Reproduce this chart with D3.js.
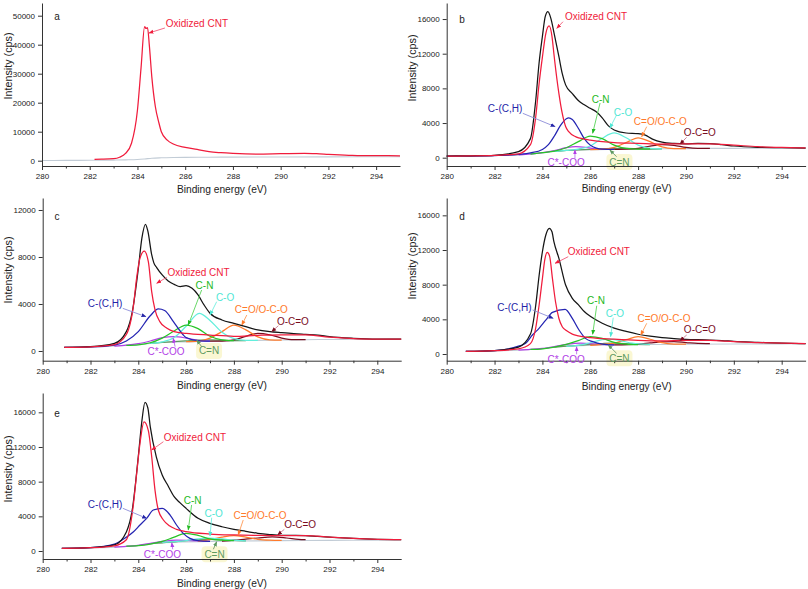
<!DOCTYPE html>
<html><head><meta charset="utf-8">
<script src="https://cdn.jsdelivr.net/npm/d3@7"></script>
<style>body{margin:0;background:#fff}svg{display:block;font-family:"Liberation Sans",Arial,sans-serif}</style>
</head><body><svg id="chart" width="808" height="589"></svg>
<script>
// ---------- tick labels / names ----------
const xMajor = [280,282,284,286,288,290,292,294];
const xMinor = [281,283,285,287,289,291,293];
const yTicksA = [0,10000,20000,30000,40000,50000];
const yTicks16 = [0,4000,8000,12000,16000];
const yTicks12 = [0,4000,8000,12000];
const labelNames = ["Oxidized CNT","C-(C,H)","C-N","C-O","C=O/O-C-O","O-C=O","C*-COO","C=N"];
const panelLetters = ["a","b","c","d","e"];

// ---------- panel a ----------
const aEnv = [[282.2,450],[282.5,500],[283,700],[283.25,1200],[283.5,2500],[283.75,6000],[284,17500],[284.15,32000],[284.3,46200],[284.36,45600],[284.42,45900],[284.5,39500],[284.6,29000],[284.75,18600],[284.9,13000],[285,10000],[285.25,7100],[285.5,5750],[286,4600],[286.5,3900],[287,3100],[287.5,2750],[288,2530],[289,2300],[290,2400],[291,2500],[291.5,2400],[292,2200],[293,1840],[294,1720],[295,1700]];
const aBg = [[280,80],[281,100],[282,130],[283,200],[283.5,280],[284,400],[284.3,600],[284.6,850],[285,1000],[285.5,1100],[286,1150],[287,1200],[288,1230],[290,1280],[292,1320],[294,1350],[295,1360]];

// ---------- panel b ----------
const bBg = [[280,180],[281,200],[282,250],[283,330],[283.5,420],[284,560],[284.5,720],[285,830],[285.5,890],[286,930],[287,970],[288,1000],[289,1030],[290,1050],[291,1070],[292,1080],[293,1090],[294,1100],[295,1110]];
const bEnv = [[280,190],[281,220],[282,280],[283,700],[283.5,2200],[283.72,6600],[283.86,10900],[284,14000],[284.12,16300],[284.23,16850],[284.35,16100],[284.5,14200],[284.69,11650],[284.83,9700],[284.97,8400],[285.25,7400],[285.5,6600],[285.75,6100],[286,5700],[286.25,5300],[286.5,4600],[286.75,3700],[287,3200],[287.5,2850],[288,2780],[288.3,2600],[288.6,2150],[289,1800],[289.5,1650],[290,1600],[290.5,1650],[291,1620],[291.5,1500],[292,1350],[293,1200],[294,1150],[295,1110]];
const bOx = [[280,180],[281,200],[282,260],[283,450],[283.5,1500],[283.72,4700],[283.86,8500],[284,11600],[284.14,14300],[284.28,15200],[284.4,14000],[284.48,12000],[284.6,9200],[284.69,7400],[284.83,5100],[284.97,3600],[285.1,3000],[285.4,2400],[285.75,2150],[286,2040],[286.5,1850],[287,1730],[288,1650],[289,1580],[290,1600],[291,1600],[292,1450],[293,1280],[294,1180],[295,1120]];
const bCCH = [[280,170],[281,190],[282,240],[283,380],[283.5,550],[284,950],[284.25,1500],[284.5,2500],[284.75,3700],[285,4500],[285.1,4600],[285.25,4400],[285.5,3400],[285.75,2200],[286,1450],[286.25,1100],[286.5,980],[287,960]];
const bCN = [[283.5,420],[284,580],[284.5,760],[285,1150],[285.5,1850],[286,2500],[286.5,2200],[287,1450],[287.5,1080],[288,1000],[288.5,1010]];
const bCO = [[284.5,720],[285,850],[285.5,1000],[286,1350],[286.5,2250],[287,2850],[287.5,2300],[288,1450],[288.5,1080],[289,1030]];
const bCdO = [[286,930],[286.5,980],[287,1200],[287.5,1750],[288,2300],[288.5,1850],[289,1250],[289.5,1060],[290,1050]];
const bOCdO = [[287,970],[287.5,990],[288,1080],[288.5,1330],[289,1520],[289.5,1420],[290,1180],[290.5,1070],[291,1070]];
const bCsCOO = [[283,330],[283.5,430],[284,590],[284.5,820],[285,1150],[285.4,1270],[285.8,1200],[286.3,1000],[287,970]];
const bCdN = [[284.5,720],[285,840],[285.5,900],[286,960],[286.5,1020],[287,1080],[287.5,1080],[288,1030],[288.5,1000],[289,1030]];

// ---------- panel c ----------
const cBg = [[280.9,300],[282,330],[283,420],[283.5,480],[284,550],[284.5,650],[285,720],[286,780],[287,830],[288,870],[289,900],[290,930],[291,960],[292,980],[293,995],[294,1005],[295,1010]];
const cEnv = [[280.9,310],[282,370],[283,650],[283.5,1650],[283.75,3350],[284,7000],[284.15,9600],[284.3,10780],[284.4,10200],[284.56,8200],[284.65,7500],[284.77,7100],[285,6470],[285.25,5960],[285.5,5670],[285.75,5480],[286,5560],[286.25,5330],[286.5,4770],[286.75,3920],[287,3210],[287.5,2640],[288,2350],[288.5,2070],[289,1790],[289.5,1650],[290,1560],[290.5,1480],[291,1420],[291.5,1360],[292,1220],[293,1080],[294,1020],[295,1020]];
const cOx = [[280.9,310],[282,360],[283,550],[283.5,1400],[283.8,3900],[283.93,6200],[284.07,7900],[284.25,8500],[284.42,7600],[284.56,5050],[284.7,3500],[284.9,2500],[285.2,1930],[285.5,1650],[286,1500],[287,1360],[288,1250],[289,1330],[290,1380],[291,1370],[292,1180],[293,1060],[294,1020],[295,1010]];
const cCCH = [[280.9,300],[282,340],[283,500],[283.5,850],[284,1650],[284.5,3000],[284.84,3575],[285.1,3450],[285.47,2500],[285.75,1700],[286,1150],[286.5,880],[287,840]];
const cCN = [[283.5,480],[284,530],[284.5,700],[285,1100],[285.5,1700],[286,2200],[286.5,1900],[287,1250],[287.5,950],[288,880]];
const cCO = [[284.5,650],[285,780],[285.5,1150],[286,2100],[286.55,3200],[287,2600],[287.5,1600],[288,1050],[288.5,900],[289,900]];
const cCdO = [[286,800],[286.5,850],[287,1100],[287.5,1650],[288,2200],[288.5,1800],[289,1200],[289.5,950],[290,930]];
const cOCdO = [[287,830],[287.5,850],[288,950],[288.5,1250],[289,1500],[289.5,1380],[290,1100],[290.5,960],[291,960]];
const cCsCOO = [[283,420],[283.5,490],[284,620],[284.5,850],[285,1130],[285.5,1220],[286,1100],[286.5,900],[287,840]];
const cCdN = [[284.5,650],[285,730],[285.5,800],[286,860],[286.5,920],[287,950],[287.5,920],[288,880],[288.5,880]];

// ---------- panel d ----------
const dBg = [[280.8,300],[282,350],[283,450],[283.5,520],[284,620],[284.5,800],[285,900],[286,1000],[287,1050],[288,1080],[289,1100],[290,1120],[292,1150],[294,1170],[295,1180]];
const dEnv = [[280.8,310],[282,400],[283,800],[283.5,2300],[283.72,5600],[283.86,9000],[284,11800],[284.14,13700],[284.29,14500],[284.4,14100],[284.48,12960],[284.69,11040],[284.97,7960],[285.25,6420],[285.5,5700],[285.75,4900],[286,4350],[286.5,3550],[287,2980],[287.5,2600],[288,2280],[288.5,2050],[289,1880],[289.5,1780],[290,1700],[290.5,1650],[291,1610],[291.5,1550],[292,1460],[293,1350],[294,1250],[295,1190]];
const dOx = [[280.8,300],[282,380],[283,600],[283.5,1200],[283.72,3000],[283.86,5600],[284,8700],[284.1,10900],[284.2,11730],[284.3,11300],[284.42,8700],[284.55,6000],[284.69,4100],[284.83,3150],[285,2700],[285.25,2300],[285.5,2100],[286,1900],[287,1720],[288,1580],[289,1520],[290,1560],[291,1560],[292,1420],[293,1320],[294,1250],[295,1190]];
const dCCH = [[280.8,300],[282,400],[283,900],[283.3,1230],[283.58,2190],[283.86,2960],[284.14,3900],[284.42,4800],[284.95,5150],[285.25,4100],[285.53,2770],[285.8,1800],[286.1,1420],[286.5,1150],[287,1060]];
const dCN = [[283.5,520],[284,600],[284.5,800],[285,1100],[285.5,1550],[286,2000],[286.5,1800],[287,1350],[287.5,1150],[288,1090]];
const dCO = [[285,900],[285.5,1000],[286,1300],[286.5,1650],[286.8,1730],[287.25,1550],[287.75,1250],[288.5,1100]];
const dCdO = [[286,1000],[286.5,1100],[287,1250],[287.5,1650],[288,2000],[288.5,1700],[289,1300],[289.5,1150],[290,1130]];
const dOCdO = [[287,1050],[288,1150],[288.5,1280],[289,1400],[289.5,1420],[290,1320],[290.5,1220],[291,1200]];
const dCsCOO = [[283,450],[283.5,520],[284,640],[284.5,850],[285,1100],[285.6,1250],[286.2,1150],[287,1060]];
const dCdN = [[284.5,800],[285,900],[285.5,1000],[286,1100],[286.5,1200],[286.9,1250],[287.5,1200],[288,1110],[288.5,1090]];

// ---------- panel e ----------
const eBg = [[280.8,300],[282,370],[283,450],[283.5,540],[284,650],[284.5,850],[285,950],[286,1050],[287,1100],[288,1150],[290,1200],[292,1230],[294,1260],[295,1270]];
const eEnv = [[280.8,300],[282,380],[283,700],[283.5,2200],[283.75,4800],[284,10900],[284.15,15000],[284.28,17150],[284.4,16500],[284.5,14350],[284.75,10900],[285,8770],[285.25,7500],[285.5,6270],[285.75,5550],[286,4920],[286.5,3770],[287,3190],[287.5,2800],[288,2500],[288.5,2270],[289,2040],[289.5,1900],[290,1810],[290.5,1800],[291,1770],[291.5,1680],[292,1600],[293,1450],[294,1350],[295,1300]];
const eOx = [[280.8,300],[282,380],[283,600],[283.5,1300],[283.8,5500],[283.93,8900],[284.07,12400],[284.24,14900],[284.42,13900],[284.56,10900],[284.7,7000],[284.84,4700],[285.05,3580],[285.3,2900],[285.6,2500],[286,2230],[287,1960],[288,1850],[289,1800],[290,1770],[291,1780],[292,1600],[293,1450],[294,1350],[295,1300]];
const eCCH = [[280.8,300],[282,390],[283,800],[283.5,1600],[283.8,2230],[284.07,3000],[284.35,3770],[284.63,4730],[285,4920],[285.33,4150],[285.6,3000],[285.88,2040],[286.16,1460],[286.5,1200],[287,1120]];
const eCN = [[283.5,550],[284,620],[284.5,800],[285,1100],[285.5,1600],[286,2040],[286.5,1800],[287,1400],[287.5,1250],[288,1200]];
const eCO = [[285,1000],[285.5,1080],[286,1200],[286.5,1400],[286.9,1500],[287.5,1400],[288,1250],[288.5,1170]];
const eCdO = [[286.5,1150],[287,1300],[287.5,1600],[288,1770],[288.5,1600],[289,1350],[289.5,1250],[290,1220]];
const eOCdO = [[287.5,1150],[288,1250],[288.5,1380],[289,1500],[289.6,1620],[290.2,1500],[290.7,1350],[291,1300]];
const eCsCOO = [[283,450],[283.5,540],[284,660],[284.5,870],[285,1100],[285.6,1250],[286.2,1200],[287,1120]];
const eCdN = [[284.5,850],[285,950],[285.5,1050],[286,1200],[286.5,1300],[286.9,1350],[287.5,1300],[288,1220],[288.5,1180]];

// ---------- styles ----------
const lineColor = {bg:"#c2ccd6", cdn:"#5f9a5f", cscoo:"#b23ee6", ocdo:"#7a0c1e", cdo:"#ff7a2a", co:"#62eedc", cn:"#27c427", cch:"#2424b2", env:"#151515", ox:"#f01c3c"};
const textColor = ["#f01c3c","#2424a8","#22b822","#4fe6d4","#ff7a2a","#7a0c1e","#b23ee6","#5f9a5f"];
const arrowColor = ["#f25a78","#8c8cd8","#58d458","#70eedf","#ff9a55","#c77a92","#c070ee","#6a9a6a"];

// ---------- layout ----------
const panels = [
 {x0:42, x1:400, top:3, bot:166, dom:[-1830,54380], yt:yTicksA, letter:[57,16], ylab:[7.5,66], xlab:[222,189],
  lines:[["bg",aBg],["ox",aEnv]], notes:[[0,286.49,47140,285.15,45760,284.48,44030]]},
 {x0:446.7, x1:805.6, top:3, bot:166, dom:[-958,17850], yt:yTicks16, letter:[462,19], ylab:[412,68], xlab:[626.7,188.5],
  lines:[["bg",bBg],["cdn",bCdN],["cscoo",bCsCOO],["ocdo",bOCdO],["cdo",bCdO],["co",bCO],["cn",bCN],["cch",bCCH],["env",bEnv],["ox",bOx]],
  notes:[[0,286.24,16270,284.86,15690,284.60,14930],[1,282.44,5620,283.18,5120,284.53,3580],[2,286.43,6770,286.41,6310,286.10,2820],[3,287.37,5270,287.10,4930,286.82,3430],[4,288.93,4120,288.36,3580,288.15,2420],[5,290.58,2850,290.03,2350,289.75,1580],[6,284.99,-500,285.36,-70,285.36,890],[7,287.22,-500,287.10,115,286.82,890]]},
 {x0:42.7, x1:401.2, top:198, bot:360.7, dom:[-826,13020], yt:yTicks12, letter:[57,216], ylab:[7.5,270], xlab:[222,385],
  lines:[["bg",cBg],["cdn",cCdN],["cscoo",cCsCOO],["ocdo",cOCdO],["cdo",cCdO],["co",cCO],["cn",cCN],["cch",cCCH],["env",cEnv],["ox",cOx]],
  notes:[[0,286.52,6660,285.19,6270,284.77,5760],[1,282.61,4000,283.35,3630,284.32,2920],[2,286.77,5560,286.65,5190,286.09,2210],[3,287.63,4540,287.28,4200,287.00,3060],[4,289.15,3490,288.54,3060,288.33,2210],[5,290.47,2550,289.86,2150,289.58,1640],[6,285.16,-60,285.54,370,285.46,1080],[7,286.96,0,286.65,370,286.44,940]]},
 {x0:446.7, x1:805.6, top:198, bot:360.7, dom:[-773,18000], yt:yTicks16, letter:[462,216], ylab:[412,266], xlab:[626.7,386.5],
  lines:[["bg",dBg],["cdn",dCdN],["cscoo",dCsCOO],["ocdo",dOCdO],["cdo",dCdO],["co",dCO],["cn",dCN],["cch",dCCH],["env",dEnv],["ox",dOx]],
  notes:[[0,286.36,11800,285.08,11230,284.53,10460],[1,282.83,5340,283.59,5080,284.45,4120],[2,286.24,6120,286.27,5570,286.10,2270],[3,287.03,4730,286.96,4190,286.85,2000],[4,289.08,4150,288.36,3540,288.11,2190],[5,290.58,2770,290.03,2190,289.75,1530],[6,284.99,-580,285.43,-35,285.43,840],[7,287.22,-500,287.10,80,286.75,1040]]},
 {x0:42.7, x1:401.2, top:393, bot:559, dom:[-923,18230], yt:yTicks16, letter:[57,413], ylab:[7.5,469], xlab:[222,583],
  lines:[["bg",eBg],["cdn",eCdN],["cscoo",eCsCOO],["ocdo",eOCdO],["cdo",eCdO],["co",eCO],["cn",eCN],["cch",eCCH],["env",eEnv],["ox",eOx]],
  notes:[[0,286.37,13070,285.05,12610,284.56,11650],[1,282.61,5310,283.35,4930,284.35,3770],[2,286.27,5880,286.23,5310,286.09,2420],[3,287.15,4350,287.07,3840,287.00,1730],[4,289.09,4070,288.39,3580,288.18,1850],[5,290.77,3000,290.11,2500,289.83,1850],[6,285.01,-380,285.44,200,285.40,960],[7,287.19,-380,287.14,200,287.28,1070]]}
];

const svg = d3.select("#chart");
const defs = svg.append("defs");
textColor.forEach((c,i)=>{
  defs.append("marker").attr("id","arr"+i).attr("viewBox","0 0 10 10").attr("refX",9).attr("refY",5)
    .attr("markerWidth",5).attr("markerHeight",5).attr("markerUnits","userSpaceOnUse").attr("orient","auto")
    .append("path").attr("d","M0,1 L10,5 L0,9 Z").attr("fill",c);
});

panels.forEach((p,pi)=>{
  const x = d3.scaleLinear().domain([280,295]).range([p.x0,p.x1]);
  const y = d3.scaleLinear().domain(p.dom).range([p.bot,p.top]);
  const g = svg.append("g");

  // C=N highlight
  const cdnNote = p.notes.find(n=>n[0]===7);
  if(cdnNote){
    g.append("rect").attr("x",x(cdnNote[1])-13).attr("y",y(cdnNote[2])-8).attr("width",26).attr("height",16)
      .attr("rx",4).attr("fill","#f8f4c4").attr("opacity",0.75);
  }

  const line = d3.line().x(d=>x(d[0])).y(d=>y(d[1])).curve(d3.curveMonotoneX);
  p.lines.forEach(([k,data])=>{
    g.append("path").attr("d",line(data)).attr("fill","none").attr("stroke",lineColor[k])
      .attr("stroke-width", k==="bg"?1.1:1.25).attr("stroke-linejoin","round");
  });

  // axes
  const xa = g.append("g").attr("transform",`translate(0,${p.bot})`)
    .call(d3.axisBottom(x).tickValues(xMajor).tickSize(4).tickSizeOuter(0).tickPadding(3.5).tickFormat(d3.format("d")));
  g.append("g").attr("transform",`translate(0,${p.bot})`)
    .call(d3.axisBottom(x).tickValues(xMinor).tickSize(2.5).tickSizeOuter(0).tickFormat(""))
    .call(s=>s.select(".domain").remove());
  const ya = g.append("g").attr("transform",`translate(${p.x0},0)`)
    .call(d3.axisLeft(y).tickValues(p.yt).tickSize(4).tickSizeOuter(0).tickPadding(3).tickFormat(d3.format("d")));
  [xa,ya].forEach(a=>{
    a.selectAll("text").attr("font-size","8px").attr("fill","#222").attr("font-family","Liberation Sans, Arial, sans-serif");
    a.selectAll("line").attr("stroke","#333");
    a.select(".domain").attr("stroke","#333");
  });
  g.selectAll(".tick line").attr("stroke","#333");

  // titles
  g.append("text").attr("transform",`translate(${p.ylab[0]},${p.ylab[1]}) rotate(-90)`)
    .attr("text-anchor","middle").attr("dominant-baseline","central").attr("font-size","10.8px").attr("fill","#222")
    .text("Intensity (cps)");
  g.append("text").attr("x",p.xlab[0]).attr("y",p.xlab[1]).attr("text-anchor","middle").attr("dominant-baseline","central")
    .attr("font-size","10.2px").attr("fill","#222").text("Binding energy (eV)");
  g.append("text").attr("x",p.letter[0]).attr("y",p.letter[1]).attr("text-anchor","middle").attr("dominant-baseline","central")
    .attr("font-size","10px").attr("fill","#222").text(panelLetters[pi]);

  // annotations
  p.notes.forEach(([li,tE,tV,aE,aV,bE,bV])=>{
    g.append("line").attr("x1",x(aE)).attr("y1",y(aV)).attr("x2",x(bE)).attr("y2",y(bV))
      .attr("stroke",arrowColor[li]).attr("stroke-width",0.9).attr("marker-end",`url(#arr${li})`);
    g.append("text").attr("x",x(tE)).attr("y",y(tV)).attr("text-anchor","middle").attr("dominant-baseline","central")
      .attr("font-size","10px").attr("fill",textColor[li]).text(labelNames[li]);
  });
});
</script></body></html>
